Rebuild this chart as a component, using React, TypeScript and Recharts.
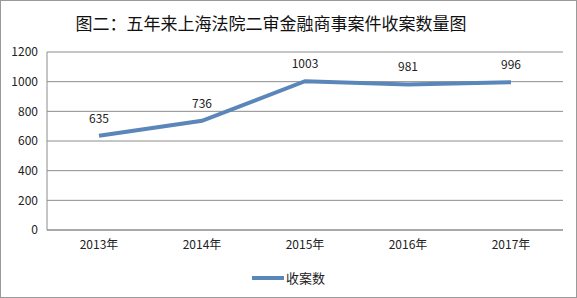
import { LineChart, Line, XAxis, YAxis, CartesianGrid, LabelList, Legend } from 'recharts';

const YEARS = ['2013年', '2014年', '2015年', '2016年', '2017年'];
const CASES = [635, 736, 1003, 981, 996];
const Y_TICKS = [0, 200, 400, 600, 800, 1000, 1200];

const LINE_COLOR = '#5b86b9';
const FONT = '"Noto Sans CJK SC", "Noto Sans", sans-serif';

const data = YEARS.map((year, i) => ({ year, cases: CASES[i] }));

function LegendContent() {
    return (
        <div style={{ display: 'flex', alignItems: 'center', justifyContent: 'center', fontFamily: FONT, fontSize: 13, color: '#222', lineHeight: '18px' }}>
            <div style={{ width: 32, height: 4, background: LINE_COLOR, marginRight: 2 }} />
            <span>收案数</span>
        </div>
    );
}

export default function App() {
    return (
        <div style={{ position: 'absolute', left: 0, top: 0, width: 577, height: 298, background: '#fff', border: '1px solid #9a9a9a', boxSizing: 'border-box', overflow: 'hidden' }}>
            <div style={{ position: 'absolute', left: 0, width: 540, top: 10, textAlign: 'center', fontFamily: FONT, fontSize: 17, fontWeight: 400, color: '#111', lineHeight: '24px' }}>
                图二：五年来上海法院二审金融商事案件收案数量图
            </div>
            <div style={{ position: 'absolute', left: -1, top: -1 }}>
                <LineChart width={577} height={298} data={data} margin={{ top: 52, right: 14, bottom: 0, left: 0 }}>
                    <CartesianGrid vertical={false} stroke="#8c8c8c" />
                    <XAxis
                        dataKey="year"
                        height={28}
                        padding={{ left: 52, right: 52 }}
                        tickLine={false}
                        axisLine={{ stroke: '#8c8c8c' }}
                        tickMargin={4}
                        tick={{ fill: '#222', fontSize: 12, fontFamily: FONT }}
                        interval={0}
                    />
                    <YAxis
                        width={47}
                        domain={[0, 1200]}
                        ticks={Y_TICKS}
                        tickLine={false}
                        axisLine={{ stroke: '#8c8c8c' }}
                        tickMargin={3}
                        tick={{ fill: '#222', fontSize: 12, fontFamily: FONT }}
                    />
                    <Legend
                        verticalAlign="bottom"
                        height={40}
                        content={<LegendContent />}
                        wrapperStyle={{ top: 269, bottom: 'auto', left: 0, width: 577 }}
                    />
                    <Line
                        dataKey="cases"
                        name="收案数"
                        stroke={LINE_COLOR}
                        strokeWidth={4}
                        dot={false}
                        isAnimationActive={false}
                    >
                        <LabelList dataKey="cases" position="top" offset={13} fill="#222" fontSize={12} fontFamily={FONT} />
                    </Line>
                </LineChart>
            </div>
        </div>
    );
}
